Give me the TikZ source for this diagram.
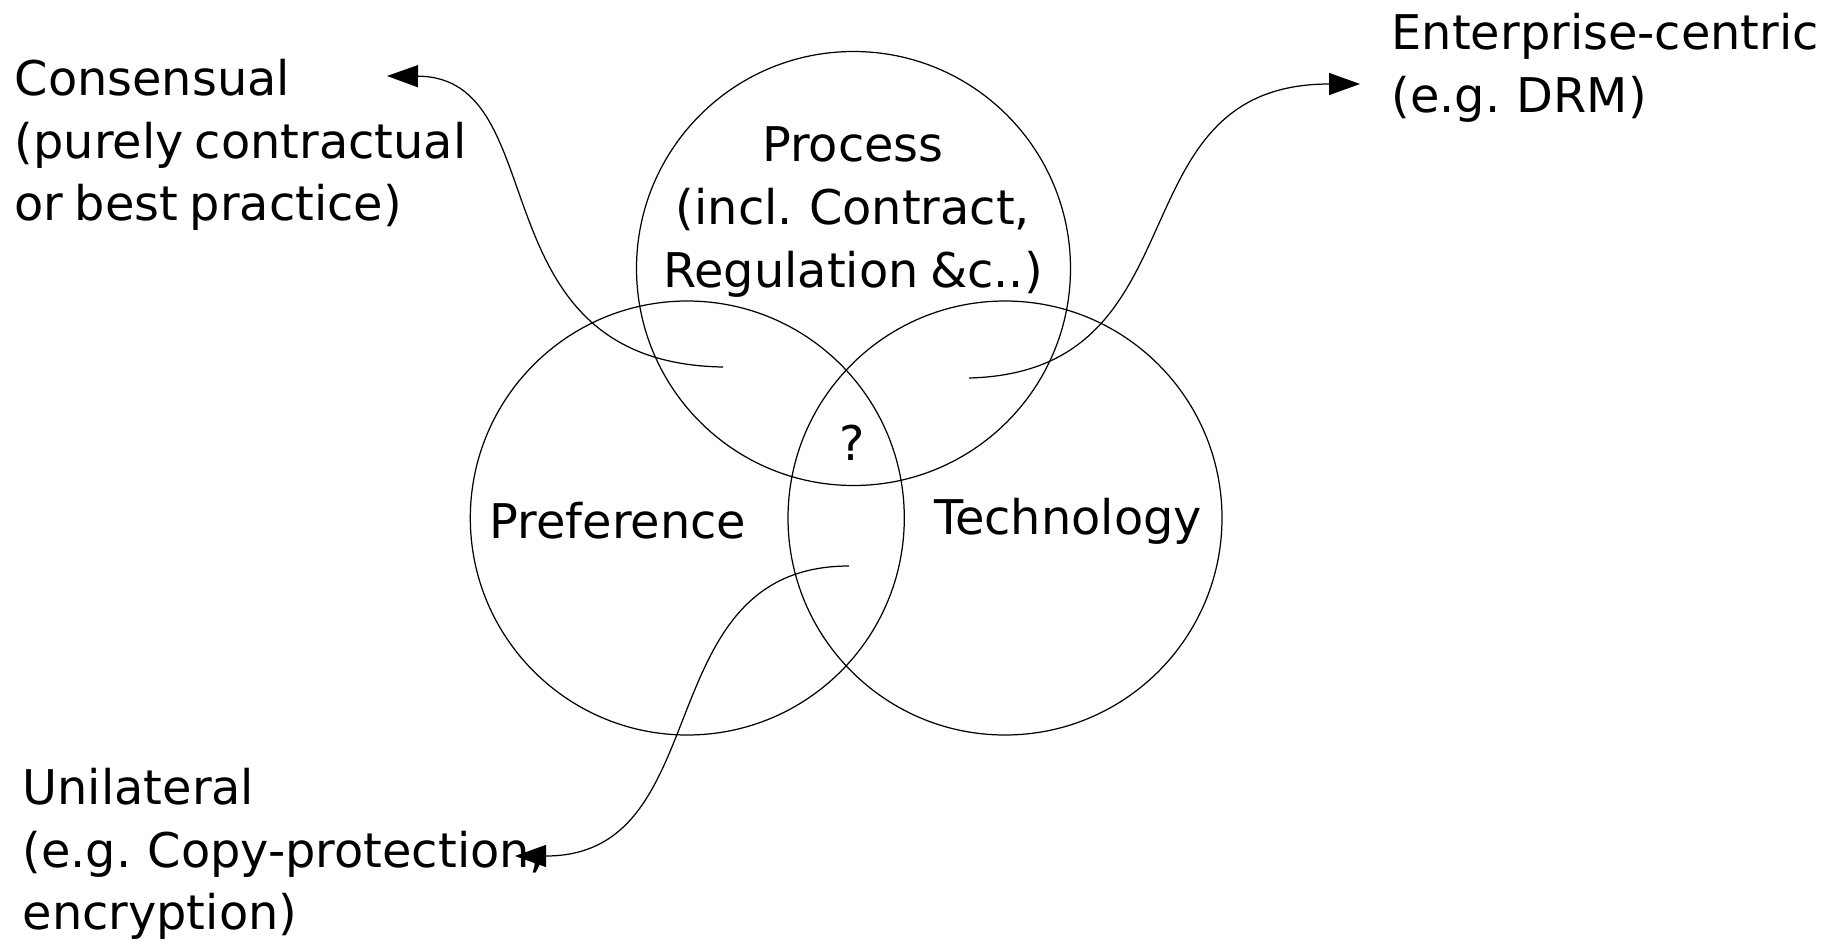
\documentclass[tikz,border=0pt]{standalone}
\usepackage{fontspec}
\setmainfont[WordSpace=0.75]{DejaVu Sans}
\usepackage{tikz}
\usetikzlibrary{arrows.meta,positioning}
\tikzset{
  >={Triangle[length=3.1mm,width=2.2mm]},
  ring/.style ={circle,draw=black,line width=0.35pt,minimum size=4.34cm,inner sep=0pt},
  txt/.style  ={font=\fontsize{13.6}{17.8}\selectfont,align=center,inner sep=0pt},
  side/.style ={txt,align=left,anchor=west},
  ar/.style   ={->,line width=0.35pt,black},
}

\begin{document}
\begin{tikzpicture}
\useasboundingbox (0,0) rectangle (18.22,9.43);
% the three sets
\node[ring] (proc) at (8.535,6.745) {};
\node[ring] (pref) at (6.873,4.25) {};
\node[ring] (tech) at (10.05,4.25) {};
\node[txt] (proct) at (8.53,7.31) {Process\\(incl. Contract,\\Regulation \&c..)};
\node[txt] (preft) at (6.18,4.22) {Preference};
\node[txt] (techt) at (10.68,4.22) {Technology};
\node[txt] (q) at (8.52,5.0) {?};
% outer labels
\node[side] (cons) at (0.14,7.98) {Consensual\\(purely contractual\\or best practice)};
\node[side] (ent) at (13.91,8.75) {Enterprise-centric\\(e.g. DRM)};
\node[side] (uni) at (0.22,0.89) {Unilateral\\(e.g. Copy-protection,\\encryption)};
% arrow ends
\coordinate (consA) at (7.23,5.76);
\coordinate (consB) at (3.87,8.67);
\coordinate (entA) at (9.69,5.65);
\coordinate (entB) at (13.60,8.59);
\coordinate (uniA) at (8.49,3.77);
\coordinate (uniB) at (5.15,0.87);
\draw[ar] (consA) .. controls (4.72,5.80) and (5.58,8.66) .. (consB);
\draw[ar] (entA) .. controls (12.08,5.71) and (11.10,8.59) .. (entB);
\draw[ar] (uniA) .. controls (6.45,3.77) and (7.20,0.87) .. (uniB);
\end{tikzpicture}
\end{document}
